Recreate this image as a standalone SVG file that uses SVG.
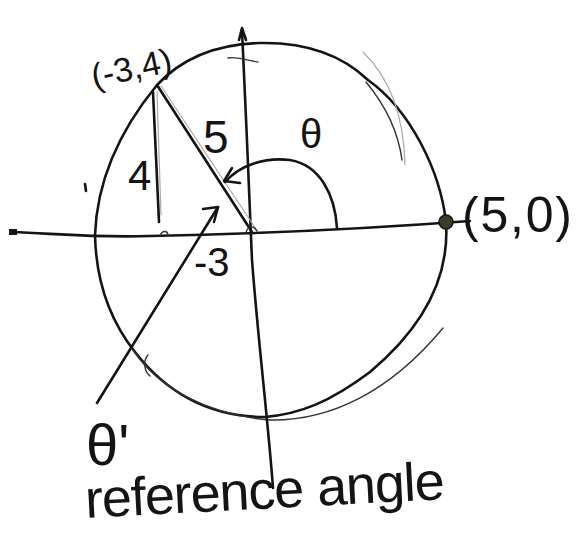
<svg xmlns="http://www.w3.org/2000/svg" width="576" height="538" viewBox="0 0 576 538">
<style>
.ink{fill:none;stroke:#141414;stroke-width:2.6;stroke-linecap:round;stroke-linejoin:round}
.thin{fill:none;stroke:#333;stroke-width:1.4;stroke-linecap:round}
.faint{fill:none;stroke:#aaa;stroke-width:1.2;stroke-linecap:round}
.lbl{font-family:"Liberation Sans","DejaVu Sans",sans-serif;fill:#141414}
</style>
<rect width="576" height="538" fill="#fff"/>
<g id="circle">
<path class="ink" d="M157,85 C185,55 220,44 260,43 C310,42 345,58 368,80 C410,110 440,170 446,222 C450,280 420,330 370,372 C330,402 300,414 265,417 C215,417 170,397 135,352 C108,318 96,280 95,235 C97,180 120,130 157,85 Z"/>
<path class="thin" d="M133,350 C160,390 210,415 270,420 C330,421 390,392 443,328"/>
<path class="faint" d="M363,52 C392,80 404,120 405,165"/>
<path class="thin" d="M366,82 C385,105 398,130 402,160"/>
<path class="thin" d="M148,355 C142,362 145,372 150,376"/>
<path class="ink" d="M85,184 L86,191"/>
</g>
<g id="axes">
<path class="ink" d="M12,232 C60,234 100,238 150,236 C250,234 350,230 470,221"/>
<rect x="9" y="229" width="8" height="6" fill="#141414"/>
<path class="ink" d="M242,30 C245,100 250,200 252,260 C258,340 268,420 273,488"/>
<path class="ink" d="M239,40 L242,28 L246,40"/>
<path class="thin" d="M228,58 C236,56 244,60 258,62"/>
</g>
<g id="triangle">
<path class="ink" d="M157,85 L252,232"/>
<path class="faint" d="M161,86 L256,229"/>
<path class="ink" d="M153,92 L159,222"/>
<path class="faint" d="M157,92 L161,215"/>
<path class="thin" d="M160,236 C162,230 168,230 168,236"/>
<path class="thin" d="M246,233 C247,226 254,225 257,231"/>
</g>
<g id="theta-arc">
<path class="ink" d="M225,182 C240,165 265,157 290,160 C320,165 335,195 337,228"/>
<path class="ink" d="M232,168 L224,181 L240,183"/>
</g>
<g id="theta-prime-arrow">
<path class="ink" d="M97,403 L218,207"/>
<path class="ink" d="M203,209 L218,207 L214,222"/>
</g>
<g id="point-5-0">
<circle cx="446" cy="222" r="7" fill="#3d3b2a" stroke="#141414" stroke-width="1.5"/>
</g>
<g id="labels">
<text class="lbl" x="94" y="88" font-size="34" transform="rotate(-12 94 88)">(-3,4)</text>
<text class="lbl" x="128" y="190" font-size="42">4</text>
<text class="lbl" x="203" y="153" font-size="46">5</text>
<text class="lbl" x="300" y="148" font-size="40">θ</text>
<text class="lbl" x="194" y="276" font-size="40">-3</text>
<text class="lbl" x="86" y="465" font-size="58">θ'</text>
<text class="lbl" x="462" y="232" font-size="50" textLength="110">(5,0)</text>
<text class="lbl" x="86" y="518" font-size="54" textLength="360" transform="rotate(-3 86 518)">reference angle</text>
</g>
</svg>
